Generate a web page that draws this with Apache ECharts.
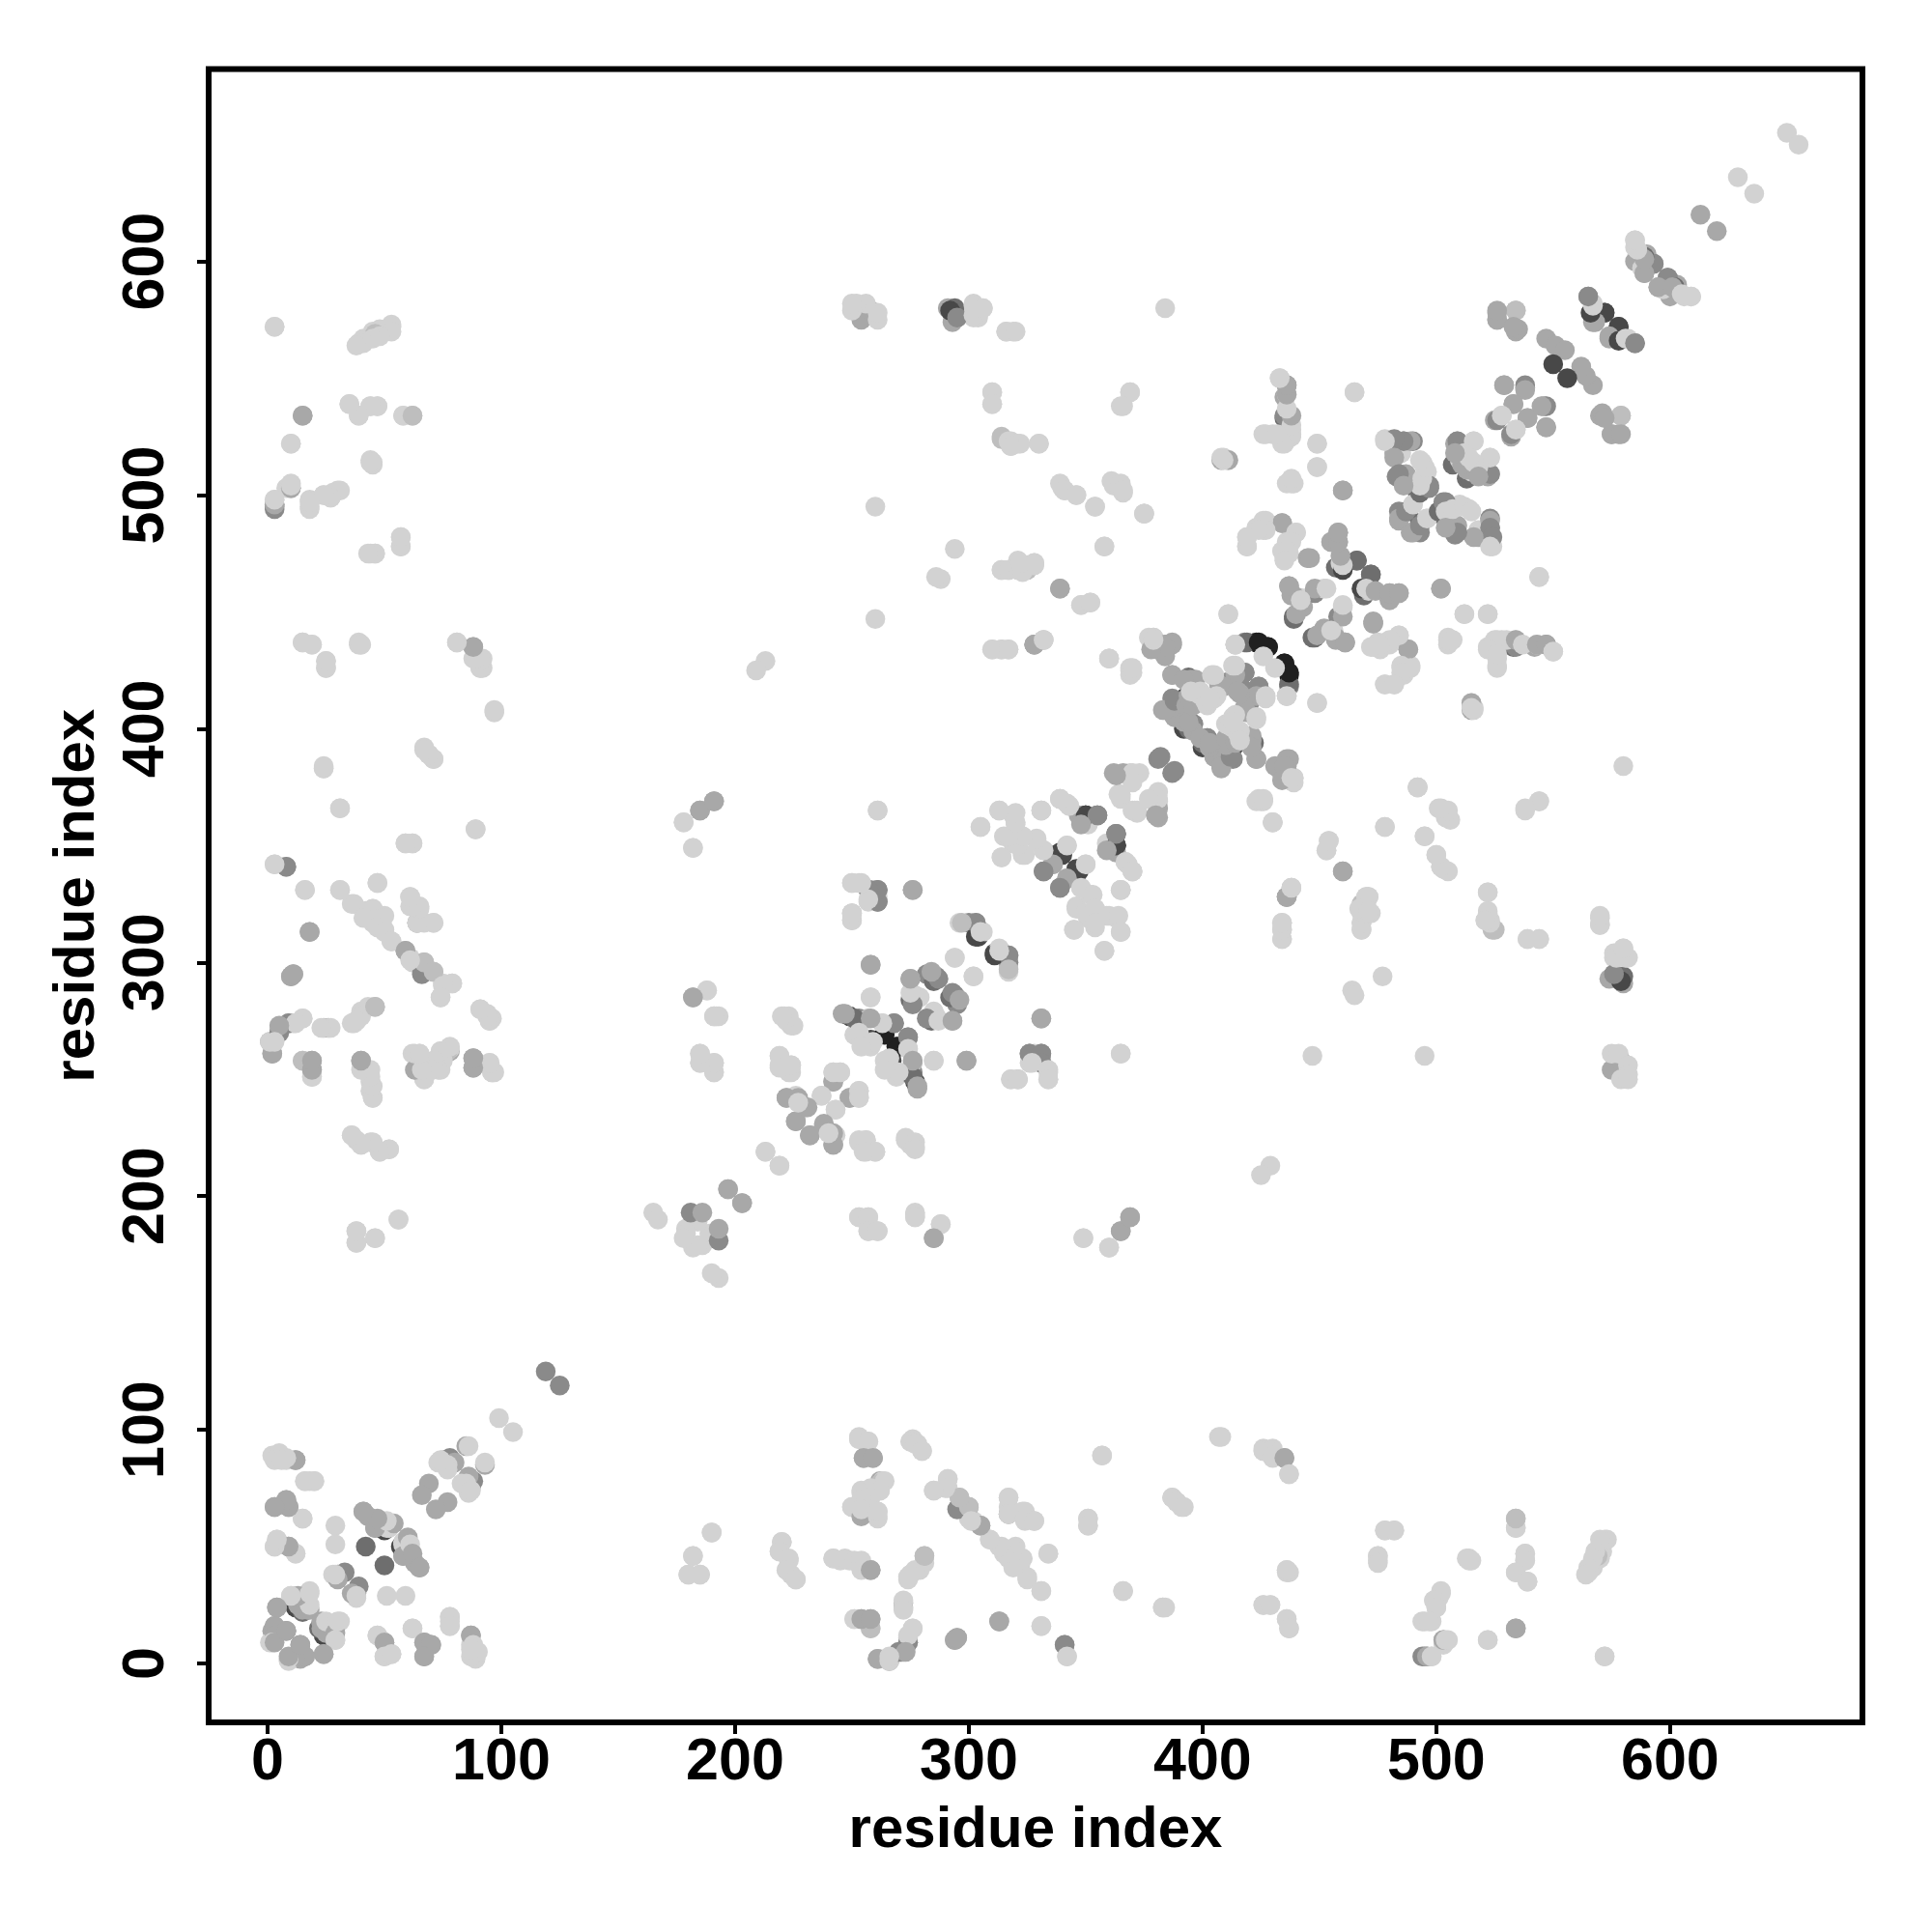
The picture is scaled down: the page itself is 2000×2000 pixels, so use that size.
<!DOCTYPE html>
<html>
<head>
<meta charset="utf-8">
<script src="https://cdn.jsdelivr.net/npm/echarts@6/dist/echarts.min.js"></script>
<style>html,body{margin:0;padding:0;background:#fff}#c{width:2000px;height:2000px}</style>
</head>
<body>
<div id="c"></div>
<script>
const tickValues = [0, 100, 200, 300, 400, 500, 600];
const axisTitle = "residue index";
// contacts: [residue a, residue b, strength 1 (weak) .. 7 (strong)]; every contact appears at (a,b) and (b,a)
const contactsBlockA = [
[119,125,4],[99,105,1],[85,93,3],[86,93,1],[75,87,2],[78,88,4],[73,86,1],[76,85,1],[80,86,3],[77,85,1],[77,83,1],[74,87,1],
[69,77,3],[66,72,3],[41,65,3],[43,63,3],[46,58,3],[50,60,6],[50,57,6],[47,60,3],[51,60,1],[51,58,1],[51,59,3],[52,58,1],[54,60,3],[46,58,3],[51,61,1],[47,62,3],[41,65,3],
[42,50,5],[29,59,1],[29,51,1],[28,38,1],[30,38,4],[33,39,4],[30,36,3],[29,38,1],
[16,78,1],[18,78,1],[20,78,1],[12,87,3],[2,89,1],[5,89,1],[7,88,1],[8,87,1],
[3,67,3],[8,70,3],[9,67,3],[15,62,1],[4,53,1],[3,50,1],[9,50,3],[12,47,1],
[12,24,6],[15,22,5],[16,23,6],[4,24,3],[3,16,3],[2,14,3],[8,14,4],[3,11,3],[1,9,1],[10,29,1],[12,28,3],[13,25,3],[16,24,3],[17,23,3],[15,23,3],[18,23,3],[18,25,1],[18,31,1],
[13,29,3],[10,29,1],[18,30,1],[4,24,3],[3,16,3],[3,12,3],[9,2,1],[3,9,3],[8,14,3],
[12,47,1],[9,50,3],[3,50,1],[4,53,1],[15,62,1],[9,67,3],[8,70,3],[3,67,3],[20,78,1],[16,78,1],[12,87,3],[8,88,1],[5,90,1],[3,87,1],[6,87,1]
];
const contactsBlockB = [
[3,572,1],[39,565,1],[41,567,1],[45,570,1],[48,571,1],[51,571,1],[53,573,1],[15,534,3],[35,539,1],[39,534,1],[44,538,1],[47,538,1],[58,534,1],[62,534,2],
[10,522,1],[44,515,1],[45,513,1],[10,503,3],[8,503,1],[10,505,1],[3,495,4],[3,496,3],[3,498,1],[18,498,1],[18,494,1],[24,500,1],[27,499,1],[28,501,1],[30,502,1],
[44,475,1],[46,475,1],[57,482,1],[57,478,1],[15,437,1],[19,436,1],[25,429,1],[25,426,1],[39,437,1],[40,436,1],[81,437,1],[88,430,1],[88,435,3],[92,430,1],[91,426,1],[92,426,1],
[97,407,1],[67,392,1],[69,389,1],[71,387,1],[24,383,1],[31,366,1],[89,357,1],[59,351,1],[62,351,1],[3,342,1],[8,341,3],[16,331,1],[31,331,1],[47,334,1],
[36,325,1],[42,322,1],[45,323,1],[50,320,1],[45,317,1],[50,314,1],[53,309,1],[61,328,1],[61,324,1],[65,324,1],[64,317,4],[64,317,1],[67,317,1],[71,317,1],
[59,305,3],[61,302,1],[62,300,1],[67,296,4],[67,300,3],[71,296,2],[75,291,1],[79,291,1],[74,285,1],[18,313,3],[10,294,3],[11,295,3],
[91,280,1],[94,278,1],[95,275,1],[96,276,1],[9,274,3],[5,271,3],[15,276,1],[11,274,1],[5,272,1],[1,266,3],[2,266,1],[2,261,3],[24,272,2],[26,272,2],
[43,281,1],[40,279,1],[38,275,1],[37,274,1],[46,281,2],[15,258,1],[19,251,1],[19,258,3],[19,254,3],[40,258,3],[41,254,1],[43,254,1],[44,249,1],[45,242,1],[44,245,1],
[62,261,1],[65,261,1],[78,262,3],[78,263,1],[74,262,1],[74,257,1],[70,257,1],[64,254,3],[67,254,1],[74,254,1],[67,250,1],[88,259,3],[88,255,3],[95,257,1],[96,253,1],[97,253,1],
[36,226,1],[38,224,1],[40,222,1],[44,223,1],[48,219,1],[52,220,1],[56,190,1],[38,185,1],[38,180,1],[46,182,1]
];
const contactsBlockC = [
[190,56,1],[182,46,1],[180,38,1],[185,38,1],[220,52,1],[219,48,1],[223,45,1],[222,40,1],[226,36,1],[242,45,1],[247,45,1],[251,44,1],[254,44,1],[254,40,1],[258,40,3],
[277,40,1],[275,38,1],[274,36,1],[281,46,2],[272,27,1],[272,23,1],[251,19,1],[258,15,2],[254,19,3],[258,19,3],[274,9,4],[276,15,1],[274,12,1],[261,2,3],[266,1,1],[270,5,4],[273,5,3],[266,3,1],
[294,10,3],[295,11,3],[313,18,3],[331,16,1],[341,8,4],[342,3,1],[366,31,1],[383,24,1],[334,47,1],[331,31,1],[325,37,1],[323,45,1],[319,49,1],[319,41,1],[315,47,1],[313,50,1],[309,53,1],
[295,66,4],[305,59,3],[300,67,2],[296,71,2],[301,61,1],[291,79,1],[290,75,1],[285,74,1],[317,71,1],[317,64,1],[323,65,1],[324,62,1],[328,61,1],[351,62,1],[351,59,1],[357,89,1],
[253,96,1],[257,95,1],[255,88,3],[259,88,3],[275,95,1],[277,94,1],[280,91,1],[262,77,2],[264,78,1],[258,75,1],[254,73,1],[262,74,1],[258,71,1],[254,70,1],[250,67,1],[254,63,3],[254,66,1],[261,63,1],[261,65,1],
[408,97,1],[426,91,1],[429,91,1],[430,89,1],[435,88,3],[437,81,1],[387,71,1],[389,69,1],[391,67,1],[436,39,1],[436,40,1],[384,24,1],[426,25,1],[429,25,1],[436,19,1],[437,15,1],
[478,57,1],[482,57,1],[475,46,1],[475,43,1],[514,45,1],[514,44,1],[502,31,1],[499,27,1],[500,24,1],[495,18,1],[497,18,1],[503,10,3],[504,10,1],[494,3,4],[496,3,3],[498,3,1],
[522,10,1],[534,15,3],[534,58,1],[534,62,2],[538,47,1],[538,44,1],[534,39,1],[539,35,1],[572,3,1],[569,46,2],[572,53,1],[570,53,1],[568,48,1],[567,45,1],[565,41,1],[564,38,1]
];
const contactsBlockD = [
[423,369,1],[426,369,1],[430,360,1],[492,375,1],[501,366,1],[504,365,1],[504,362,1],[478,358,1],[495,354,1],[500,346,1],[502,341,1],[503,340,1],[454,352,1],[453,348,1],[460,339,3],
[436,328,3],[438,332,1],[434,317,1],[434,314,1],[434,310,1],[468,325,2],[471,328,1],[470,328,1],[472,321,1],[468,321,1],[468,317,1],[468,314,1],[477,294,1],[464,288,1],[465,286,1],[447,260,1],[495,260,1],[429,213,1],[425,209,1],
[544,369,1],[538,365,1],[522,330,1],[522,321,1],[521,318,1],[523,318,1],[525,314,2],[539,310,1],[544,310,1],[570,319,1],[570,316,1],
[574,293,3],[576,295,3],[580,291,3],[580,294,5],[576,304,1],[580,306,1],[582,302,1],[576,302,1],[575,254,3],[579,258,3],[575,261,1],[578,261,1],[582,256,1],[582,252,1],[579,250,1],[582,250,1],
[292,579,6],[295,576,4],[302,581,1],[302,577,1],[306,580,1],[316,570,1],[320,570,1],[384,580,1],[310,544,1],[310,539,1],[369,544,1],[366,538,1],
[314,524,2],[317,523,1],[322,522,1],[318,521,1],[330,522,1],[339,505,1],[341,502,1],[346,500,1],[354,495,1],[361,506,1],[365,505,1],[366,502,1],[375,492,1],[358,478,1],
[314,468,1],[317,468,1],[321,471,1],[321,469,1],[328,471,1],[325,470,1],[339,460,3],[348,453,1],[352,454,1],[328,436,3],[332,438,1],[310,434,1],[314,434,1],[317,434,1],[360,430,1],
[377,439,1],[379,439,1],[384,436,3],[387,437,3],[381,434,3],[411,449,1],[414,436,1]
];
const contactsBlockE = [
[435,533,5],[433,550,1],[436,547,4],[435,542,3],[436,543,1],[438,534,1],[438,528,1],[426,526,1],[430,526,1],[435,522,1],[438,525,1],[449,522,1],[449,512,1],
[408,515,3],[409,516,1],[411,515,1],[436,505,1],[439,505,1],[460,502,3],[465,544,1],[434,488,3],[427,489,1],[419,482,1],[423,486,1],[426,485,1],[419,478,1],[440,484,1],[436,480,1],[435,473,1],[434,476,1],[437,475,1],[445,473,2],
[458,484,3],[458,480,3],[455,480,2],[457,469,5],[459,471,1],[466,472,5],[472,466,5],[468,460,6],[470,460,1],[474,459,3],[480,455,3],[480,458,3],[484,458,3],[473,445,3],[502,460,3],
[439,448,5],[437,461,3],[438,457,3],[442,456,1],[443,452,3],[448,458,4],[452,460,1],[460,448,3],[460,453,1],[447,439,5],[449,440,3],[457,439,3],[461,437,3],[455,442,1],
[482,523,4],[478,524,1],[486,523,4],[490,523,4],[482,518,3],[485,518,1],[494,514,1],[496,510,1],[483,508,4],[486,508,3],[492,501,5],[497,504,4],[493,505,1],
[484,493,4],[488,493,5],[490,496,1],[484,489,3],[490,484,3],[493,487,4],[496,490,1],[501,493,5],[503,497,4],[504,493,1],
[507,513,5],[514,508,5],[509,523,3],[516,523,1],[522,508,3],[523,509,4],[523,516,1],[510,515,1],[512,518,1],[513,511,3],[516,514,1],[508,518,3],[532,525,3],[523,489,3],[523,486,4],[524,482,4],[523,478,1],[516,482,3],[509,487,3],[509,484,4],[504,486,3],[507,494,1],[512,495,1],[515,493,1],
[544,465,1],[512,449,1],[522,449,1],[505,438,1],[507,438,1],[534,435,4],[526,438,1],[522,434,1],[530,438,1],[534,438,3],[537,436,1],[543,436,3],[547,436,3],[550,433,1],[526,427,1],[526,432,1],[515,411,3],[515,409,1],[516,408,1],
[488,434,3],[484,440,1],[480,438,1],[476,436,1],[472,435,1],[489,426,1],[485,427,1],[485,424,1],[478,419,1],[482,419,1],[473,446,3]
];
const contactsBlockF = [
[418,437,4],[414,436,1],[423,437,7],[428,435,7],[437,419,5],[435,428,7],[437,424,7],[436,414,1],[431,426,1],[449,411,1],
[379,439,1],[384,436,3],[387,436,3],[381,434,3],[369,425,1],[375,492,1],
[393,412,6],[392,400,6],[400,394,5],[409,394,6],[413,392,6],[422,394,5],[420,413,5],[411,420,4],[418,424,4],[417,417,4],[424,418,4],[387,413,4],
[387,423,3],[395,421,3],[414,423,3],[395,416,3],[383,408,3],[388,405,3],[396,402,4],[402,396,4],[405,388,3],[408,384,3],[412,388,4],[423,387,3],[421,397,3],
[397,411,3],[393,410,3],[392,403,3],[396,399,3],[403,394,3],[410,396,3],[414,394,3],[421,392,3],[419,407,3],[409,418,3],[416,415,3],
[404,423,1],[413,427,1],[405,413,1],[401,412,1],[410,402,1],[416,399,1],[423,405,1],[427,414,1],[398,415,1],[402,412,1],[406,414,1],[416,395,1],[413,403,1],
[381,387,4],[388,382,4],[373,381,1],[369,381,1],[364,372,1],[370,365,1],[381,362,3],[381,366,3],[381,370,1],
[431,384,3],[435,384,3],[434,378,3],[438,379,1],[424,370,1],[426,370,1],[430,360,1],[436,328,3],[438,332,1],
[361,351,6],[363,355,4],[363,350,6],[367,343,1],[370,339,1],[365,331,1],[470,328,1],[467,323,1],[471,322,1]
];
const contactsBlockG = [
[191,369,3],[185,365,3],[178,360,1],[182,349,1],[261,365,1],[258,331,3],[261,331,4],[261,326,4],[250,334,1],[253,334,1],[261,328,1],[257,326,1],[276,331,3],[250,321,2],[250,318,1],
[296,317,1],[300,317,4],[303,317,3],[304,311,6],[306,313,1],[311,303,6],[317,303,4],[313,305,1],[317,297,2],[294,302,1],[302,294,1],[258,299,3],
[284,295,5],[282,295,4],[286,294,4],[275,293,3],[292,285,5],[293,287,4],[296,284,3],[275,284,5],[277,286,1],[285,279,1],[282,276,4],[287,275,1],[293,275,3],[258,285,1],
[188,288,1],[182,285,3],[192,277,1],[191,277,1],[221,277,1],[224,273,1],[222,275,1],
[246,278,3],[249,277,6],[253,276,4],[257,276,2],[258,267,6],[264,270,7],[263,274,1],[268,274,4],[251,269,1],[258,264,1],[269,264,7],[274,268,4],[274,263,1],[276,251,5],[276,258,3],[278,247,3],[266,259,1],[270,253,1],[264,254,1],[285,258,1],[299,258,3],
[331,276,3],[326,261,4],[331,261,4],[331,257,4],[327,257,1],[334,254,1],[334,250,1],[318,250,1],[321,250,1],[365,261,1],
[185,261,1],[185,257,1],[191,257,1],[191,253,1],[219,260,1],[219,256,1],[224,256,1],[223,253,1],[242,249,3],[242,253,1],[245,253,1],[237,243,1],[249,242,3],[253,245,1],[253,242,1],[243,237,1],
[222,242,3],[226,243,1],[230,238,3],[226,232,3],[232,226,3],[238,231,3],[242,227,3],[242,222,3],[240,227,1],[253,224,1],[256,224,1],[260,219,1],[255,219,1],[273,225,1],[277,223,1],[277,220,1],[213,219,1],[219,213,1],
[197,203,3],[203,197,3],[165,193,1],[167,190,1],[179,186,1],[189,184,1],[184,179,1],[182,178,1],[181,193,4],[186,193,3],
[253,191,1],[257,191,1],[257,185,1],[261,185,1],[277,193,1],[277,191,1],[288,188,1],[285,182,3],[349,182,1],[360,178,1],[365,185,3],[369,191,3]
];
const contactsBlockH = [
[313,365,1],[319,363,1],[305,358,1],[331,365,1],[339,370,1],[342,368,1],[320,359,1],[323,354,1],[319,351,1],[315,354,1],[324,346,1],[314,345,1],[329,352,1],[332,348,1],
[350,363,6],[347,363,3],[355,363,4],[351,359,1],[363,350,6],[363,355,4],[359,348,3],[367,343,1],[370,339,1],[339,347,6],[342,350,1],[336,342,3],[332,339,4],[346,340,6],[350,342,1],[342,336,3],[339,332,4],
[348,332,1],[353,329,1],[365,331,1],[346,323,1],[350,321,1],[354,323,1],[354,317,1],[360,320,1],[364,320,1],[345,314,1],[365,313,1],[358,305,1],[365,371,1],[372,365,1],[370,377,1],[380,363,3]
];
const contactsBlockI = [
[650,655,1],[629,636,1],[613,620,3],[585,600,3],[590,603,3],[593,599,4],[585,609,1],[585,606,1],[589,595,3],[588,597,1],[599,593,4],[602,589,5],[595,589,3],[601,589,3],[605,586,1],[609,585,1],
[565,585,4],[567,582,1],[569,577,4],[567,574,3],[572,578,6],[578,572,6],[574,568,3],[578,566,6],[581,567,1],[585,565,4],[547,567,3],[551,564,3],[555,562,3],[550,556,6],
[534,579,2],[526,578,3],[534,571,2],[534,570,3],[526,575,3],[571,535,3],[579,534,2],[575,526,3],[579,526,3],[572,533,3],
[529,547,3],[538,546,4],[538,546,1],[533,539,3],[547,538,4],[545,538,3],[539,533,3],[547,529,3],[528,534,1],[532,526,4],[534,528,1]
];
const allBlocks = [contactsBlockA, contactsBlockB, contactsBlockC, contactsBlockD, contactsBlockE, contactsBlockF, contactsBlockG, contactsBlockH, contactsBlockI];
const strengthGrays = ["#d2d2d2", "#bebebe", "#a8a8a8", "#8a8a8a", "#6e6e6e", "#484848", "#202020"];

const points = [];
allBlocks.forEach(function (block) {
  block.forEach(function (c) { points.push([c[0], c[1], c[2]]); points.push([c[1], c[0], c[2]]); });
});

const chart = echarts.init(document.getElementById("c"), null, { renderer: "canvas", width: 2000, height: 2000 });
const FONT = "'Liberation Sans', Arial, sans-serif";
function axis(name, rotate, nameGap, labelMargin) {
  return {
    type: "value", min: -25.2, max: 682.3, name: name, nameLocation: "middle", nameGap: nameGap,
    nameTextStyle: { fontFamily: FONT, fontWeight: "bold", fontSize: 60, color: "#000" },
    axisLine: { show: false, onZero: false }, splitLine: { show: false },
    axisTick: { show: true, length: 12, inside: false, lineStyle: { color: "#000", width: 4 }, customValues: tickValues },
    axisLabel: { show: true, rotate: rotate, margin: labelMargin, fontFamily: FONT, fontWeight: "bold", fontSize: 61, color: "#000", customValues: tickValues, formatter: function (v) { return String(v); } }
  };
}
chart.setOption({
  animation: false, backgroundColor: "#fff",
  grid: { left: 216, top: 71.5, width: 1712, height: 1711.5, show: true, borderColor: "#000", borderWidth: 6, backgroundColor: "transparent", containLabel: false },
  xAxis: axis(axisTitle, 0, 82, 12),
  yAxis: axis(axisTitle, 90, 106, 33),
  series: [{
    type: "scatter", data: points, symbol: "circle", symbolSize: 20.5, progressive: 0, clip: false, z: 1,
    itemStyle: { opacity: 1, color: function (p) { return strengthGrays[p.value[2] - 1]; } },
    emphasis: { disabled: true }, silent: true
  }]
});
</script>
</body>
</html>
